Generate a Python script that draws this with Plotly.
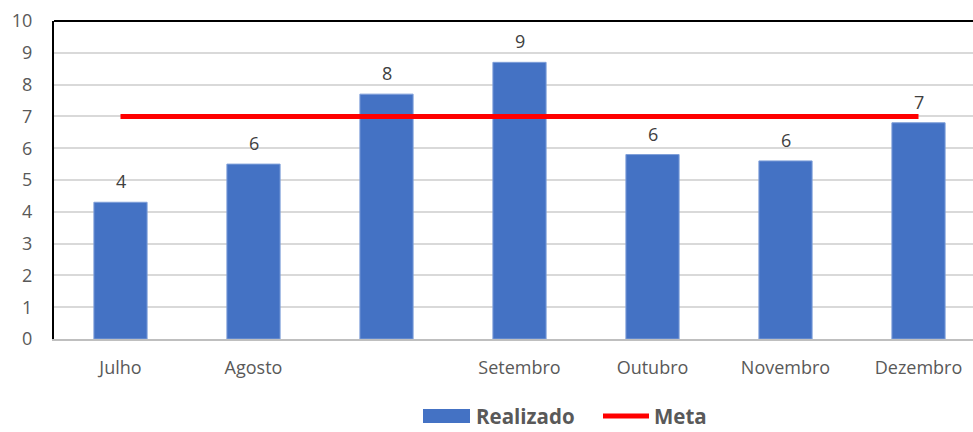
import plotly.graph_objects as go

# Monthly results vs. target
meses = ["Julho", "Agosto", " ", "Setembro", "Outubro", "Novembro", "Dezembro"]
realizado = [4.3, 5.5, 7.7, 8.7, 5.8, 5.6, 6.8]
meta = [7, 7, 7, 7, 7, 7, 7]
y_ticks = list(range(0, 11))

nome_barra = "Realizado"
nome_linha = "Meta"

cor_barra = "#4472C4"
cor_meta = "#FF0000"
fonte = "Open Sans"

fig = go.Figure()

fig.add_trace(go.Bar(
    x=meses, y=realizado, name=nome_barra,
    marker=dict(color=cor_barra, line=dict(color="#7F9FD9", width=1)),
    width=0.4, showlegend=False,
))

fig.add_trace(go.Scatter(
    x=meses, y=meta, name=nome_linha, mode="lines",
    line=dict(color=cor_meta, width=5), showlegend=False,
))

# value labels above each bar, rounded to whole numbers
for m, v in zip(meses, realizado):
    fig.add_annotation(
        x=m, y=v, text=f"{v:.0f}", showarrow=False,
        yanchor="bottom", yshift=7,
        font=dict(family=fonte, size=18, color="#404040"),
    )

# top border of the plot frame in black
fig.add_shape(type="line", xref="paper", yref="paper",
              x0=0, x1=1, y0=1, y1=1, line=dict(color="black", width=2))

# custom legend below the plot
leg_y = -(416 - 339) / 318
fig.add_shape(type="rect", xref="paper", yref="paper",
              x0=(423 - 54) / 919, x1=(470 - 54) / 919,
              y0=leg_y - 0.022, y1=leg_y + 0.022,
              fillcolor=cor_barra, line=dict(width=0))
fig.add_annotation(xref="paper", yref="paper", x=(474 - 54) / 919, y=leg_y,
                   xanchor="left", yanchor="middle", showarrow=False,
                   text=f"<b>{nome_barra}</b>",
                   font=dict(family=fonte, size=20.5, color="#595959"))
fig.add_shape(type="line", xref="paper", yref="paper",
              x0=(603 - 54) / 919, x1=(649 - 54) / 919, y0=leg_y, y1=leg_y,
              line=dict(color=cor_meta, width=5))
fig.add_annotation(xref="paper", yref="paper", x=(652 - 54) / 919, y=leg_y,
                   xanchor="left", yanchor="middle", showarrow=False,
                   text=f"<b>{nome_linha}</b>",
                   font=dict(family=fonte, size=20.5, color="#595959"))

fig.update_layout(
    width=973, height=432,
    margin=dict(l=54, r=0, t=21, b=93),
    paper_bgcolor="white", plot_bgcolor="white",
    font=dict(family=fonte, size=18, color="#595959"),
    bargap=0.6,
    xaxis=dict(
        type="category", range=[-0.5, -0.5 + 919 / 133],
        showline=True, linecolor="#BFBFBF", linewidth=2,
        showgrid=False, ticks="", ticklabelstandoff=11,
        tickfont=dict(family=fonte, size=18, color="#595959"),
    ),
    yaxis=dict(
        range=[0, 10], tickvals=y_ticks,
        showline=True, linecolor="black", linewidth=2,
        showgrid=True, gridcolor="#D9D9D9", gridwidth=1.5,
        zeroline=False, ticks="", ticklabelstandoff=16,
        tickfont=dict(family=fonte, size=18, color="#595959"),
    ),
)

fig.write_html("out.html")
